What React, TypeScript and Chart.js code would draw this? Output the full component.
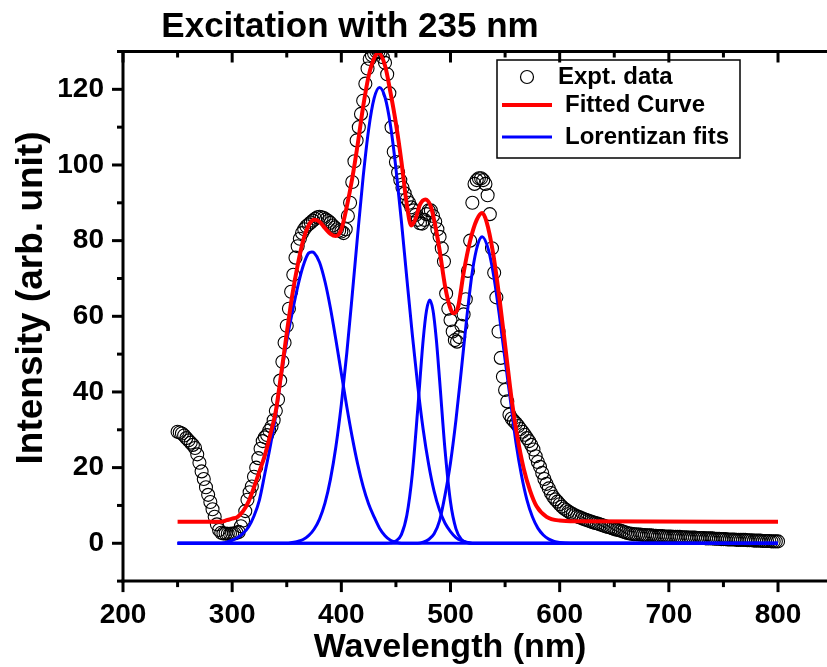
import { useEffect, useRef } from 'react';
import { Chart, registerables } from 'chart.js';

Chart.register(...registerables);

const FONT = '"Liberation Sans", Arial, Helvetica, sans-serif';

const chartTitle = 'Excitation with 235 nm';
const xAxisTitle = 'Wavelength (nm)';
const yAxisTitle = 'Intensity (arb. unit)';
const legendLabels = ['Expt. data', 'Fitted Curve', 'Lorentizan fits'];

const xMin = 200;
const xMax = 850;
const yMin = -10;
const yMax = 130;
const xMajorTicks = [200, 300, 400, 500, 600, 700, 800];
const xMinorTicks = [250, 350, 450, 550, 650, 750, 850];
const yMajorTicks = [0, 20, 40, 60, 80, 100, 120];
const yMinorTicks = [-10, 10, 30, 50, 70, 90, 110, 130];

// Experimental data: wavelength starts at 250 nm, every 2 nm
const exptStart = 250;
const exptStep = 2;
const exptIntensity = [
  29.5, 29.3, 29.0, 28.5, 27.8, 27.2, 26.6, 26.0, 25.2, 23.5,
  21.3, 19.0, 17.0, 14.8, 12.8, 10.9, 9.0, 7.0, 5.0, 3.5,
  2.8, 2.6, 2.6, 2.5, 2.5, 2.6, 2.6, 2.8, 3.0, 4.5,
  6.0, 8.5, 11.5, 13.5, 15.0, 17.6, 20.0, 22.5, 25.0, 27.0,
  28.0, 28.6, 29.8, 30.8, 32.5, 35.0, 38.0, 43.0, 48.0, 53.0,
  57.5, 62.0, 66.5, 71.0, 75.5, 78.5, 80.5, 82.0, 83.0, 83.8,
  84.3, 84.8, 85.3, 85.8, 86.2, 86.3, 86.2, 86.0, 85.6, 85.2,
  84.7, 84.0, 83.5, 83.0, 82.7, 82.4, 82.0, 83.0, 86.5, 90.0,
  95.5, 101.0, 106.5, 110.0, 113.5, 117.0, 121.5, 125.5, 128.0, 129.0,
  129.5, 130.0, 130.0, 129.8, 128.5, 127.0, 124.0, 119.0, 110.0, 103.5,
  100.8, 98.0, 96.0, 94.0, 92.5, 91.0, 90.0, 88.8, 88.0, 86.8,
  85.5, 84.6, 84.5, 85.5, 87.0, 88.0, 88.0, 86.5, 85.0, 83.0,
  81.0, 78.0, 74.5, 66.0, 62.0, 59.0, 56.0, 53.7, 53.3, 54.5,
  57.5, 60.5, 64.5, 72.0, 80.0, 90.0, 95.0, 96.0, 96.5, 96.5,
  96.0, 95.0, 92.0, 87.0, 78.0, 71.5, 65.0, 56.0, 49.0, 44.0,
  40.5, 37.5, 34.0, 33.0, 32.3, 31.7, 31.0, 30.2, 29.5, 28.7,
  27.8, 27.0, 26.0, 24.8, 23.0, 21.5, 20.2, 18.6, 17.0, 15.7,
  14.5, 13.3, 12.3, 11.6, 11.0, 10.3, 9.7, 9.2, 8.8, 8.4,
  8.0, 7.7, 7.4, 7.1, 6.9, 6.7, 6.4, 6.2, 6.0, 5.8,
  5.6, 5.4, 5.3, 5.1, 4.9, 4.7, 4.5, 4.3, 4.2, 4.0,
  3.8, 3.6, 3.5, 3.3, 3.1, 2.9, 2.7, 2.6, 2.5, 2.4,
  2.4, 2.3, 2.3, 2.2, 2.2, 2.1, 2.1, 2.1, 2.0, 2.0,
  1.9, 1.9, 1.9, 1.8, 1.8, 1.8, 1.8, 1.7, 1.7, 1.7,
  1.7, 1.6, 1.6, 1.6, 1.5, 1.5, 1.5, 1.5, 1.4, 1.4,
  1.4, 1.4, 1.3, 1.3, 1.3, 1.3, 1.2, 1.2, 1.2, 1.1,
  1.1, 1.1, 1.0, 1.0, 1.0, 1.0, 0.9, 0.9, 0.9, 0.9,
  0.9, 0.8, 0.8, 0.8, 0.7, 0.7, 0.7, 0.7, 0.6, 0.6,
  0.6, 0.6, 0.5, 0.5, 0.5,
  0.5,
];

// Fitted curve
const fitWavelength = [
  250, 290, 295, 300, 305, 310, 315, 320, 325, 330, 335, 340, 345, 350, 355, 360,
  365, 370, 375, 380, 385, 390, 395, 400, 405, 410, 415, 420, 425, 430, 434, 440,
  445, 450, 455, 460, 464, 468, 472, 477, 482, 486, 490, 495, 500, 503, 507, 512,
  518, 524, 529, 533, 539, 545, 551, 556, 561, 567, 573, 579, 588, 600, 615, 800,
];
const fitIntensity = [
  5.7, 5.7, 6.1, 6.5, 7.0, 8.5, 11.0, 14.8, 19.0, 23.3, 28.8, 35.0, 45.0, 55.5, 65.5, 73.5,
  80.0, 84.0, 85.5, 85.0, 83.3, 81.8, 81.2, 83.0, 89.0, 96.5, 105.5, 115.5, 123.5, 128.2, 129.6, 126.3,
  119.2, 111.0, 101.0, 89.5, 84.0, 85.8, 89.5, 90.9, 89.0, 84.0, 77.5, 68.0, 62.0, 60.8, 62.5, 71.5,
  80.0, 85.5, 87.3, 85.0, 76.7, 64.3, 50.0, 38.0, 28.5, 19.8, 13.8, 9.7, 7.0, 6.0, 5.8, 5.7,
];

// Peak components
const peak1Wavelength = [250, 290, 295, 300, 305, 310, 315, 320, 325, 330, 335, 340, 345, 350, 355, 360, 365, 370, 373, 375, 380, 385, 390, 395, 400, 405, 410, 415, 420, 425, 430, 435, 440, 445, 450, 455, 800];
const peak1Intensity = [0, 0, 0.3, 0.8, 1.5, 2.6, 4.3, 7.2, 11.5, 18.5, 25.8, 34.0, 44.5, 53.5, 61.0, 67.8, 73.3, 76.7, 77.0, 76.8, 74.3, 69.2, 62.2, 53.8, 44.9, 36.1, 28.0, 20.9, 15.0, 10.4, 7.0, 4.0, 2.0, 0.8, 0.3, 0, 0];

const peak2Wavelength = [250, 350, 355, 360, 365, 370, 375, 380, 385, 390, 395, 400, 405, 410, 415, 420, 425, 430, 435, 440, 445, 450, 455, 460, 465, 470, 475, 480, 485, 490, 495, 500, 505, 510, 515, 520, 800];
const peak2Intensity = [0, 0, 0.2, 0.5, 1.0, 2.0, 3.7, 6.4, 10.6, 16.9, 25.5, 36.7, 50.3, 65.7, 81.7, 96.9, 109.4, 117.6, 120.5, 117.9, 110.5, 99.1, 85.2, 70.0, 55.2, 41.6, 30.0, 20.8, 13.7, 8.7, 5.3, 3.1, 1.5, 0.7, 0.3, 0, 0];

const peak3Wavelength = [250, 440, 445, 450, 455, 460, 465, 470, 475, 478, 481, 484, 487, 490, 495, 500, 505, 510, 515, 520, 800];
const peak3Intensity = [0, 0, 0.1, 0.6, 2.3, 7.4, 18.3, 35.5, 53.9, 61.5, 64.3, 61.5, 53.9, 43.2, 24.6, 10.9, 3.8, 1.0, 0.2, 0, 0];

const peak4Wavelength = [250, 470, 475, 480, 485, 490, 495, 500, 505, 510, 515, 520, 525, 529, 535, 540, 545, 550, 555, 560, 565, 570, 575, 580, 585, 590, 595, 600, 610, 800];
const peak4Intensity = [0, 0, 0.3, 1.0, 2.5, 6.0, 12.8, 21.3, 32.6, 46.0, 59.9, 71.8, 79.0, 81.0, 77.3, 69.9, 59.7, 48.5, 37.5, 26.5, 18.0, 11.5, 7.0, 4.0, 2.2, 1.1, 0.5, 0.2, 0, 0];

const RED = '#ff0000';
const BLUE = '#0000ff';

const toPoints = (xs: number[], ys: number[]) => xs.map((x, i) => ({ x, y: ys[i] }));

const framePlugin = {
  id: 'originFrame',
  afterDatasetsDraw(chart: any) {
    const { ctx, chartArea: a, scales } = chart;
    const xs = scales.x;
    const ys = scales.y;
    const seg = (x1: number, y1: number, x2: number, y2: number) => {
      ctx.beginPath();
      ctx.moveTo(x1, y1);
      ctx.lineTo(x2, y2);
      ctx.stroke();
    };
    ctx.save();
    ctx.strokeStyle = '#000';
    ctx.lineCap = 'butt';
    ctx.lineWidth = 3;
    seg(a.left - 1.5, a.bottom, chart.width, a.bottom);
    seg(a.left - 1.5, a.top, chart.width, a.top);
    seg(a.left, a.top - 1.5, a.left, a.bottom + 1.5);
    xMajorTicks.forEach((v) => {
      const p = xs.getPixelForValue(v);
      seg(p, a.bottom, p, a.bottom + 11);
      seg(p, a.top, p, a.top + 11);
    });
    xMinorTicks.forEach((v) => {
      const p = xs.getPixelForValue(v);
      seg(p, a.bottom, p, a.bottom + 6);
      seg(p, a.top, p, a.top + 6);
    });
    yMajorTicks.forEach((v) => {
      const p = ys.getPixelForValue(v);
      seg(a.left - 11, p, a.left, p);
    });
    yMinorTicks.forEach((v) => {
      const p = ys.getPixelForValue(v);
      seg(a.left - 6, p, a.left, p);
    });

    ctx.fillStyle = '#000';
    // chart title
    ctx.font = `bold 35px ${FONT}`;
    ctx.textAlign = 'center';
    ctx.textBaseline = 'alphabetic';
    ctx.fillText(chartTitle, 350, 37);
    // x axis title
    ctx.font = `bold 34px ${FONT}`;
    ctx.fillText(xAxisTitle, 450, 657);
    // y axis title
    ctx.save();
    ctx.translate(42, 298);
    ctx.rotate(-Math.PI / 2);
    ctx.font = `bold 37px ${FONT}`;
    ctx.fillText(yAxisTitle, 0, 0);
    ctx.restore();

    // legend
    ctx.lineWidth = 1.5;
    ctx.strokeRect(497, 60, 243, 98);
    ctx.lineWidth = 1.2;
    ctx.beginPath();
    ctx.arc(527, 77, 6.5, 0, Math.PI * 2);
    ctx.stroke();
    ctx.strokeStyle = RED;
    ctx.lineWidth = 4;
    seg(502, 105, 552, 105);
    ctx.strokeStyle = BLUE;
    ctx.lineWidth = 3;
    seg(502, 137, 552, 137);
    ctx.font = `bold 24px ${FONT}`;
    ctx.textAlign = 'left';
    ctx.textBaseline = 'middle';
    ctx.fillText(legendLabels[0], 558, 77);
    ctx.fillText(legendLabels[1], 565, 105);
    ctx.fillText(legendLabels[2], 565, 137);
    ctx.restore();
  },
};

export default function App() {
  const canvasRef = useRef<HTMLCanvasElement>(null);

  useEffect(() => {
    const canvas = canvasRef.current;
    if (!canvas) return;
    const exptPoints = exptIntensity.map((y, i) => ({ x: exptStart + i * exptStep, y }));
    const peaks = [
      [peak1Wavelength, peak1Intensity],
      [peak2Wavelength, peak2Intensity],
      [peak3Wavelength, peak3Intensity],
      [peak4Wavelength, peak4Intensity],
    ];
    const blueSets = peaks.map(([xs, ys], i) => ({
      label: i === 0 ? legendLabels[2] : `${legendLabels[2]} ${i + 1}`,
      data: toPoints(xs, ys),
      showLine: true,
      borderColor: BLUE,
      borderWidth: 3,
      pointRadius: 0,
      cubicInterpolationMode: 'monotone',
      clip: 0,
      order: 2,
    }));

    const chart = new Chart(canvas, {
      type: 'scatter',
      data: {
        datasets: [
          {
            label: legendLabels[1],
            data: toPoints(fitWavelength, fitIntensity),
            showLine: true,
            borderColor: RED,
            borderWidth: 4,
            pointRadius: 0,
            cubicInterpolationMode: 'monotone',
            clip: 0,
            order: 1,
          } as any,
          ...(blueSets as any[]),
          {
            label: legendLabels[0],
            data: exptPoints,
            showLine: false,
            pointRadius: 6.5,
            pointBorderColor: '#000',
            pointBackgroundColor: 'rgba(0,0,0,0)',
            pointBorderWidth: 1.1,
            clip: 0,
            order: 3,
          } as any,
        ],
      },
      options: {
        responsive: false,
        animation: false,
        devicePixelRatio: 1,
        events: [],
        layout: { padding: { left: 0, right: 17.4, top: 51.5, bottom: 0 } },
        plugins: {
          legend: { display: false },
          tooltip: { enabled: false },
          title: { display: false },
        },
        scales: {
          x: {
            type: 'linear',
            position: 'bottom',
            min: xMin,
            max: xMax,
            grid: { display: false, drawTicks: false },
            border: { display: false },
            afterBuildTicks: (s: any) => {
              s.ticks = xMajorTicks.map((v) => ({ value: v }));
            },
            afterFit: (s: any) => {
              s.height = 85.9;
            },
            ticks: {
              color: '#000',
              padding: 17,
              maxRotation: 0,
              autoSkip: false,
              font: { family: FONT, size: 28, weight: 'bold' },
            },
          },
          y: {
            type: 'linear',
            position: 'left',
            min: yMin,
            max: yMax,
            grid: { display: false, drawTicks: false },
            border: { display: false },
            afterBuildTicks: (s: any) => {
              s.ticks = yMajorTicks.map((v) => ({ value: v }));
            },
            afterFit: (s: any) => {
              s.width = 123;
            },
            ticks: {
              color: '#000',
              padding: 19,
              autoSkip: false,
              font: { family: FONT, size: 28, weight: 'bold' },
            },
          },
        },
      } as any,
      plugins: [framePlugin],
    });

    return () => {
      chart.destroy();
    };
  }, []);

  return (
    <div
      style={{
        position: 'fixed',
        left: 0,
        top: 0,
        width: 827,
        height: 667,
        overflow: 'hidden',
        background: '#fff',
      }}
    >
      <canvas ref={canvasRef} width={850} height={667} style={{ display: 'block' }} />
    </div>
  );
}
